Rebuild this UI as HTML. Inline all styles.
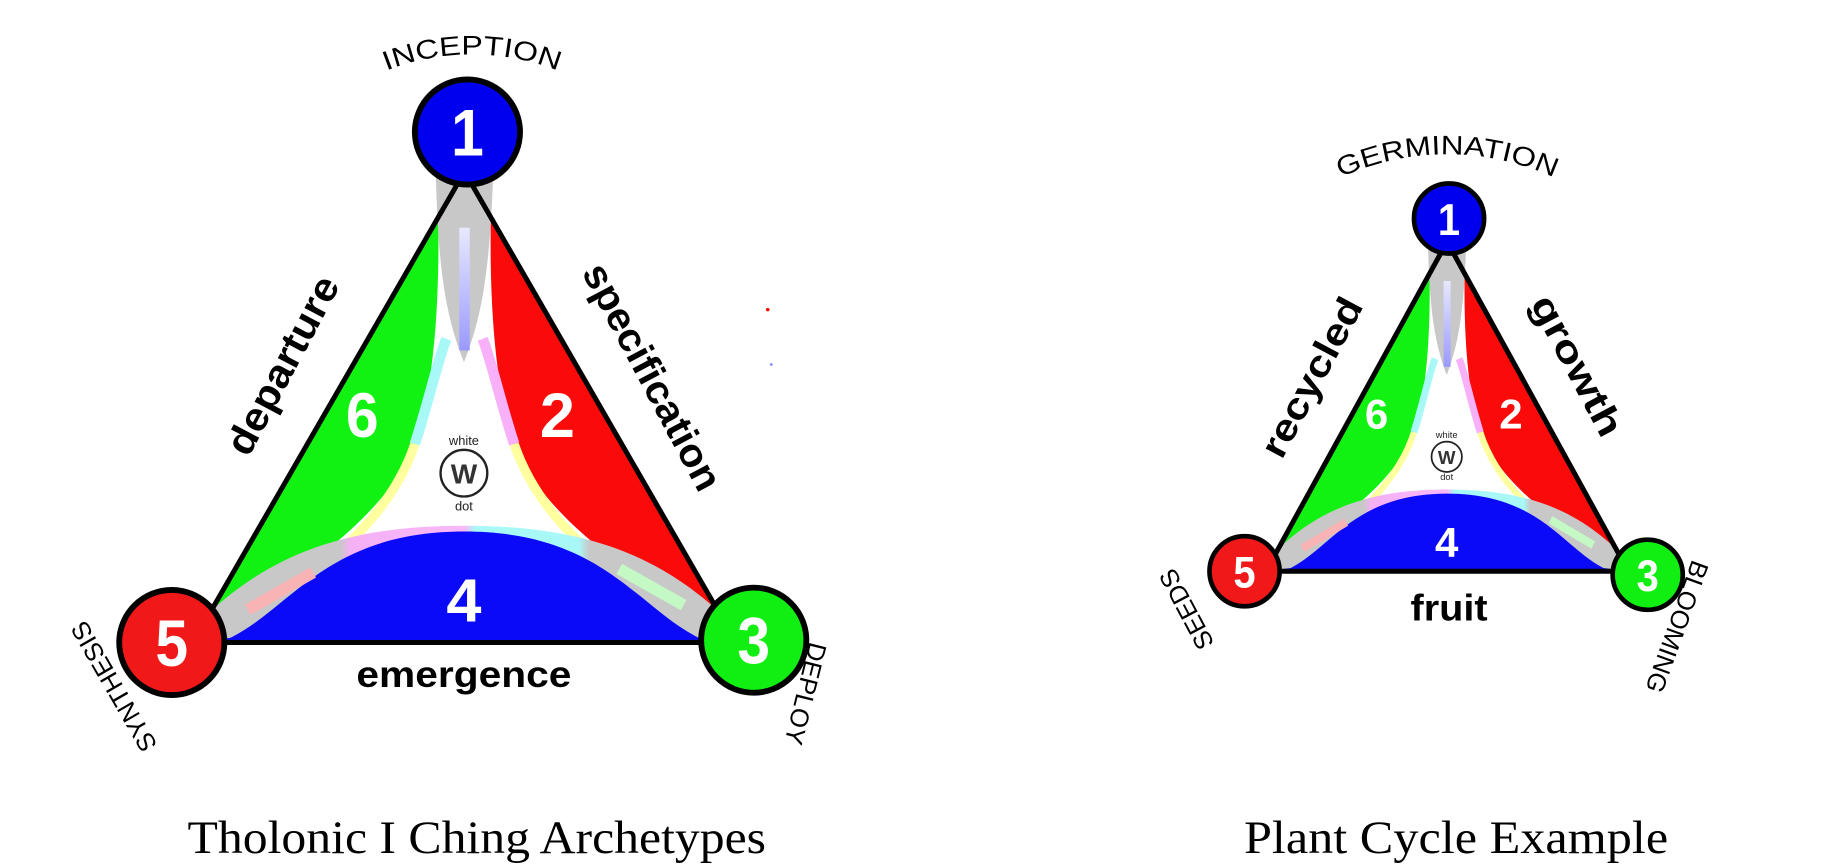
<!DOCTYPE html>
<html><head><meta charset="utf-8"><style>
html,body{margin:0;padding:0;background:#fff;width:1823px;height:868px;overflow:hidden}
svg{display:block}
.s{font-family:"Liberation Sans",sans-serif}
.cap{font-family:"Liberation Serif",serif}
</style></head><body>
<svg width="1823" height="868" viewBox="0 0 1560 743" preserveAspectRatio="none">
<defs>
<path id="arcL" d="M318,66 A200,200 0 0 1 490,66"/>
<path id="arcR" d="M1135,158 A220,220 0 0 1 1342,158"/>
<linearGradient id="lensG" x1="165" y1="0" x2="630" y2="0" gradientUnits="userSpaceOnUse">
<stop offset="0" stop-color="#c8c8c8"/><stop offset="0.27" stop-color="#c8c8c8"/>
<stop offset="0.29" stop-color="#f6b0f6"/><stop offset="0.5" stop-color="#f8b8f8"/>
<stop offset="0.52" stop-color="#a8f8f8"/><stop offset="0.71" stop-color="#a8f8f8"/>
<stop offset="0.73" stop-color="#c8c8c8"/><stop offset="1" stop-color="#c8c8c8"/>
</linearGradient>
<linearGradient id="barB" x1="0" y1="195" x2="0" y2="300" gradientUnits="userSpaceOnUse">
<stop offset="0" stop-color="#e8e8ff"/><stop offset="1" stop-color="#9a9aff"/></linearGradient>
<g id="tri">
<path d="M397.5,147 L165,550 L630,550 Z" fill="#fff"/>
<path d="M397.5,147 L165,550 L185,532 C280,480 335,430 355,380 C372,330 378,250 374,150 Z" fill="#12f212"/>
<path d="M397.5,147 L630,550 L610,532 C515,480 460,430 440,380 C423,330 417,250 421,150 Z" fill="#fb0a0a"/>
<path d="M355,380 C345,410 325,440 295,468" stroke="#ffffa0" stroke-width="8" fill="none"/>
<path d="M440,380 C450,410 470,440 500,468" stroke="#ffffa0" stroke-width="8" fill="none"/>
<path d="M355,380 C368,340 374,310 382,290" stroke="#a8f8f8" stroke-width="9" fill="none"/>
<path d="M440,380 C427,340 421,310 413,290" stroke="#f8b0f8" stroke-width="9" fill="none"/>
<path d="M168,535 C230,472 300,450 397.5,450 C495,450 565,472 627,535 L612,548 L183,548 Z" fill="url(#lensG)"/>
<path d="M165,550 L630,550 L598,546 C545,520 515,455 397.5,455 C280,455 250,520 197,546 Z" fill="#0a0af8"/>
<path d="M373,150 C375,230 381,270 397,310 C413,270 419,230 422,150 Z" fill="#c8c8c8"/>
<path d="M397.5,195 L397.5,300" stroke="url(#barB)" stroke-width="9"/>
<path d="M212,522 L268,490" stroke="#f8b4b4" stroke-width="10"/>
<path d="M585,518 L530,487" stroke="#c4f8c4" stroke-width="10"/>
<path d="M397.5,147 L165,550 L630,550 Z" fill="none" stroke="#000" stroke-width="5" stroke-linejoin="round" vector-effect="non-scaling-stroke"/>
</g>
</defs>
<g>
<use href="#tri"/>
<circle cx="400" cy="113" r="45" fill="#0000ee" stroke="#000" stroke-width="5"/>
<circle cx="147" cy="550" r="45" fill="#f01818" stroke="#000" stroke-width="5"/>
<circle cx="645" cy="548" r="45" fill="#11ee11" stroke="#000" stroke-width="5"/>
<text class="s" x="400" y="133" font-size="56" font-weight="bold" fill="#fff" text-anchor="middle" textLength="28" lengthAdjust="spacingAndGlyphs">1</text>
<text class="s" x="147" y="570" font-size="56" font-weight="bold" fill="#fff" text-anchor="middle" textLength="28" lengthAdjust="spacingAndGlyphs">5</text>
<text class="s" x="645" y="568" font-size="56" font-weight="bold" fill="#fff" text-anchor="middle" textLength="28" lengthAdjust="spacingAndGlyphs">3</text>
<text class="s" x="310" y="374" font-size="54" font-weight="bold" fill="#fff" text-anchor="middle" textLength="28" lengthAdjust="spacingAndGlyphs">6</text>
<text class="s" x="477" y="374" font-size="54" font-weight="bold" fill="#fff" text-anchor="middle" textLength="30" lengthAdjust="spacingAndGlyphs">2</text>
<text class="s" x="397" y="532" font-size="52" font-weight="bold" fill="#fff" text-anchor="middle" textLength="30" lengthAdjust="spacingAndGlyphs">4</text>
<circle cx="397" cy="405" r="20" fill="#fff" stroke="#222" stroke-width="2"/>
<text class="s" x="397" y="414" font-size="24" font-weight="bold" fill="#333" text-anchor="middle">W</text>
<text class="s" x="397" y="381" font-size="11" fill="#222" text-anchor="middle">white</text>
<text class="s" x="397" y="437" font-size="11" fill="#222" text-anchor="middle">dot</text>
<text class="s" font-size="23" fill="#000"><textPath href="#arcL" startOffset="50%" text-anchor="middle" textLength="150" lengthAdjust="spacingAndGlyphs">INCEPTION</textPath></text>
<text class="s" x="0" y="0" font-size="34" font-weight="bold" fill="#000" text-anchor="middle" textLength="168" lengthAdjust="spacingAndGlyphs" transform="translate(252,318) rotate(-62)">departure</text>
<text class="s" x="0" y="0" font-size="34" font-weight="bold" fill="#000" text-anchor="middle" textLength="215" lengthAdjust="spacingAndGlyphs" transform="translate(548,328) rotate(62)">specification</text>
<text class="s" x="397" y="588" font-size="32" font-weight="bold" fill="#000" text-anchor="middle" textLength="184" lengthAdjust="spacingAndGlyphs">emergence</text>
<text class="s" x="0" y="0" font-size="22" fill="#000" text-anchor="middle" transform="translate(104,584) rotate(-120)">SYNTHESIS</text>
<text class="s" x="0" y="0" font-size="22" fill="#000" text-anchor="middle" transform="translate(682,592) rotate(104)">DEPLOY</text>
</g>
<g>
<use href="#tri" transform="translate(973.2,104) scale(0.667,0.7)"/>
<circle cx="1240" cy="187" r="30" fill="#0000ee" stroke="#000" stroke-width="4"/>
<circle cx="1065" cy="489" r="30" fill="#f01818" stroke="#000" stroke-width="4"/>
<circle cx="1410" cy="492" r="30" fill="#11ee11" stroke="#000" stroke-width="4"/>
<text class="s" x="1240" y="201" font-size="38" font-weight="bold" fill="#fff" text-anchor="middle" textLength="19" lengthAdjust="spacingAndGlyphs">1</text>
<text class="s" x="1065" y="503" font-size="38" font-weight="bold" fill="#fff" text-anchor="middle" textLength="19" lengthAdjust="spacingAndGlyphs">5</text>
<text class="s" x="1410" y="506" font-size="38" font-weight="bold" fill="#fff" text-anchor="middle" textLength="19" lengthAdjust="spacingAndGlyphs">3</text>
<text class="s" x="1178" y="367" font-size="36" font-weight="bold" fill="#fff" text-anchor="middle" textLength="20" lengthAdjust="spacingAndGlyphs">6</text>
<text class="s" x="1293" y="367" font-size="36" font-weight="bold" fill="#fff" text-anchor="middle" textLength="20" lengthAdjust="spacingAndGlyphs">2</text>
<text class="s" x="1238" y="477" font-size="36" font-weight="bold" fill="#fff" text-anchor="middle" textLength="20" lengthAdjust="spacingAndGlyphs">4</text>
<circle cx="1238" cy="391" r="13" fill="#fff" stroke="#222" stroke-width="1.5"/>
<text class="s" x="1238" y="397" font-size="16" font-weight="bold" fill="#333" text-anchor="middle">W</text>
<text class="s" x="1238" y="375" font-size="8" fill="#222" text-anchor="middle">white</text>
<text class="s" x="1238" y="411" font-size="8" fill="#222" text-anchor="middle">dot</text>
<text class="s" font-size="23" fill="#000"><textPath href="#arcR" startOffset="50%" text-anchor="middle" textLength="188" lengthAdjust="spacingAndGlyphs">GERMINATION</textPath></text>
<text class="s" x="0" y="0" font-size="32" font-weight="bold" fill="#000" text-anchor="middle" textLength="150" lengthAdjust="spacingAndGlyphs" transform="translate(1132,328) rotate(-62)">recycled</text>
<text class="s" x="0" y="0" font-size="32" font-weight="bold" fill="#000" text-anchor="middle" textLength="132" lengthAdjust="spacingAndGlyphs" transform="translate(1340,318) rotate(62)">growth</text>
<text class="s" x="1240" y="531" font-size="32" font-weight="bold" fill="#000" text-anchor="middle" textLength="66" lengthAdjust="spacingAndGlyphs">fruit</text>
<text class="s" x="0" y="0" font-size="22" fill="#000" text-anchor="middle" transform="translate(1022,518) rotate(-118)">SEEDS</text>
<text class="s" x="0" y="0" font-size="22" fill="#000" text-anchor="middle" transform="translate(1428,534) rotate(110)">BLOOMING</text>
</g>
<circle cx="657" cy="265" r="1.5" fill="#f00"/>
<circle cx="660" cy="312" r="1.2" fill="#88f"/>
<text class="cap" x="408" y="730" font-size="40" fill="#000" text-anchor="middle" textLength="495" lengthAdjust="spacingAndGlyphs">Tholonic I Ching Archetypes</text>
<text class="cap" x="1246" y="730" font-size="40" fill="#000" text-anchor="middle" textLength="363" lengthAdjust="spacingAndGlyphs">Plant Cycle Example</text>
</svg>
</body></html>
